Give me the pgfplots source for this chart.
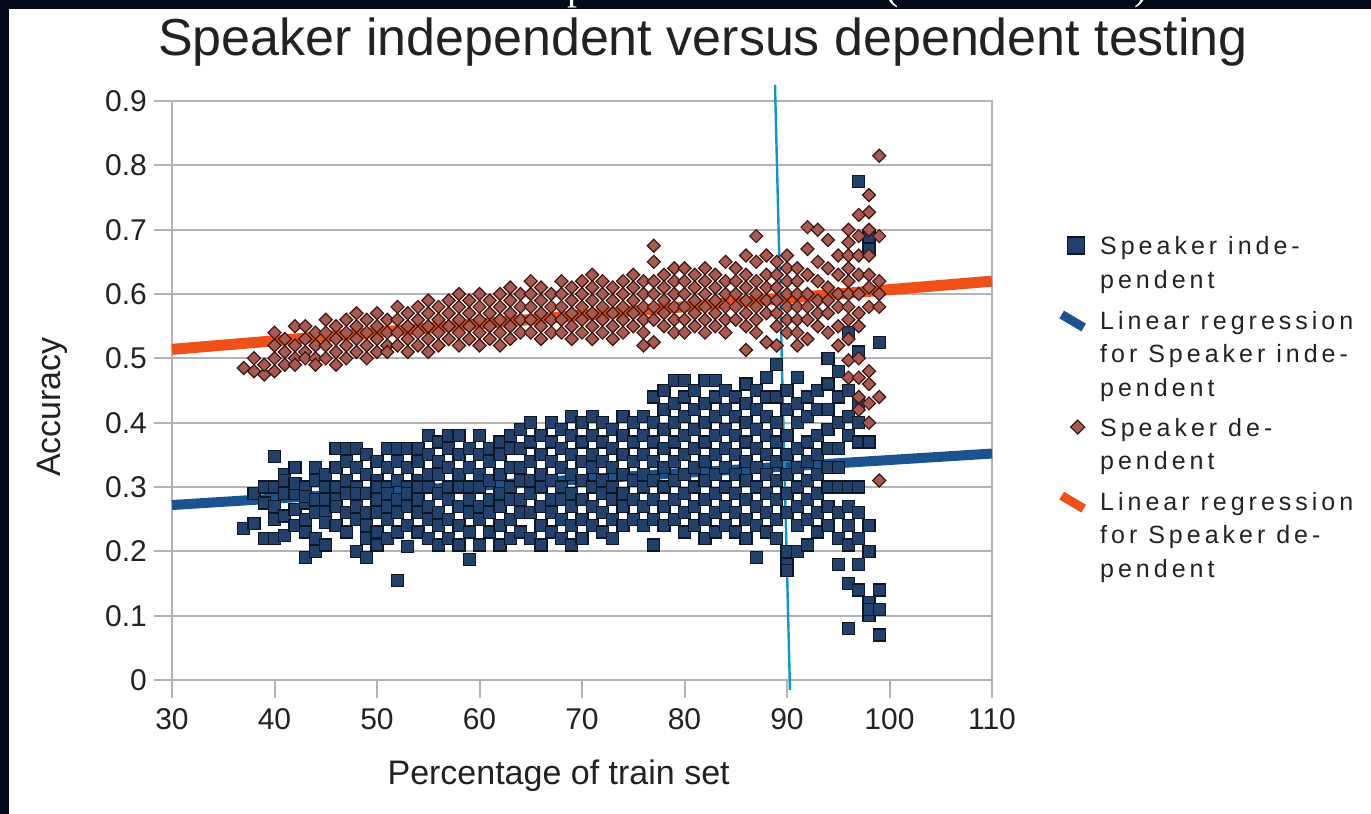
\documentclass[border=0pt]{standalone}
\usepackage{fontspec}
\setmainfont{Liberation Sans}
\newfontfamily\legfont[LetterSpace=16]{Liberation Sans}
\newfontfamily\serifcut{Liberation Serif}
\usepackage{pgfplots}
\pgfplotsset{compat=1.18}
\definecolor{bgnavy}{HTML}{020A19}
\definecolor{gridgray}{HTML}{B3B3B3}
\definecolor{sqfill}{HTML}{21406A}
\definecolor{sqdraw}{HTML}{0B1626}
\definecolor{regblue}{HTML}{1A5390}
\definecolor{dmfill}{HTML}{A85A50}
\definecolor{dmdraw}{HTML}{3D1510}
\definecolor{regorange}{HTML}{EF4F18}
\definecolor{cyanline}{HTML}{0B98CF}
\definecolor{txt}{HTML}{222222}
\begin{document}
\begin{tikzpicture}
\useasboundingbox (0,0) rectangle (685.5pt,-407pt);
\fill[bgnavy] (0,0) rectangle (685.5pt,-407pt);
\fill[white] (4.5pt,-4.5pt) rectangle (685.5pt,-407pt);
\begin{scope}
\clip (0,0) rectangle (685.5pt,-4.5pt);
\node[anchor=base west, inner sep=0pt, text=white, font=\serifcut\fontsize{20}{24}\selectfont] at (283.5pt,0.3pt) {p};
\node[anchor=base west, inner sep=0pt, text=white, font=\serifcut\fontsize{20}{24}\selectfont] at (442.5pt,0.3pt) {(};
\node[anchor=base west, inner sep=0pt, text=white, font=\serifcut\fontsize{20}{24}\selectfont] at (567pt,0.3pt) {)};
\end{scope}
\begin{axis}[
  at={(86pt,-340pt)}, anchor=south west,
  scale only axis, width=410pt, height=289.5pt,
  xmin=30, xmax=110, ymin=0, ymax=0.9,
  xtick={30,40,50,60,70,80,90,100,110},
  ytick={0,0.1,0.2,0.3,0.4,0.5,0.6,0.7,0.8,0.9},
  xtick pos=bottom, ytick pos=left,
  tick align=outside, major tick length=9pt,
  tick style={draw=gridgray, line width=1pt},
  axis line style={draw=gridgray, line width=1pt},
  ymajorgrids, major grid style={draw=gridgray, line width=1pt},
  /pgf/number format/assume math mode=true,
  yticklabel style={/pgf/number format/fixed, /pgf/number format/precision=1, font=\fontsize{15}{18}\selectfont, text=txt},
  xticklabel style={font=\fontsize{15}{18}\selectfont, text=txt, yshift=-1.5pt},
  every axis title shift=0pt,
  title={Speaker independent versus dependent testing},
  title style={at={(axis description cs:0.6476,1.0794)}, anchor=base, font=\fontsize{26}{30}\selectfont, text=txt},
  xlabel={Percentage of train set},
  xlabel style={at={(axis description cs:0.4715,-0.181)}, anchor=base, font=\fontsize{17}{20}\selectfont, text=txt},
  ylabel={Accuracy},
  ylabel style={at={(axis description cs:-0.146,0.4715)}, anchor=center, font=\fontsize{17}{20}\selectfont, text=txt},
  clip=false,
  legend style={at={(axis description cs:1.079,0.767)}, anchor=north west, draw=none, fill=none, inner sep=0pt, row sep=9.2pt, column sep=6pt, font=\legfont\fontsize{12.5}{16.85}\selectfont, text=txt, cells={align=left, anchor=base west}, nodes={inner sep=0pt}},
]
\addplot[only marks, mark=square*, mark size=3pt, mark options={fill=sqfill, draw=sqdraw, line width=0.6pt},
  legend image code/.code={\filldraw[fill=sqfill, draw=sqdraw, line width=0.6pt] (4.75pt,17.35pt) rectangle (13.25pt,25.85pt);}]
coordinates {
(37,0.235)
(38,0.243)(38,0.29)
(39,0.30)(39,0.275)(39,0.22)
(40,0.348)(40,0.30)(40,0.27)(40,0.25)(40,0.22)
(41,0.32)(41,0.29)(41,0.255)(41,0.225)(41,0.31)
(42,0.33)(42,0.29)(42,0.265)(42,0.24)(42,0.305)
(43,0.30)(43,0.275)(43,0.25)(43,0.19)(43,0.23)(43,0.285)
(44,0.33)(44,0.31)(44,0.22)(44,0.20)(44,0.26)(44,0.28)
(45,0.30)(45,0.28)(45,0.26)(45,0.21)(45,0.245)(45,0.32)
(46,0.36)(46,0.33)(46,0.30)(46,0.28)(46,0.24)(46,0.27)
(47,0.34)(47,0.31)(47,0.29)(47,0.26)(47,0.23)(47,0.36)
(48,0.36)(48,0.33)(48,0.30)(48,0.27)(48,0.25)(48,0.20)(48,0.29)
(49,0.35)(49,0.32)(49,0.29)(49,0.26)(49,0.22)(49,0.19)(49,0.24)
(50,0.34)(50,0.31)(50,0.28)(50,0.26)(50,0.23)(50,0.21)(50,0.30)
(51,0.36)(51,0.33)(51,0.30)(51,0.27)(51,0.25)(51,0.22)(51,0.29)
(52,0.36)(52,0.34)(52,0.31)(52,0.28)(52,0.26)(52,0.155)(52,0.23)
(53,0.36)(53,0.33)(53,0.30)(53,0.27)(53,0.24)(53,0.207)(53,0.29)
(54,0.36)(54,0.34)(54,0.31)(54,0.28)(54,0.26)(54,0.23)(54,0.30)
(55,0.38)(55,0.35)(55,0.32)(55,0.30)(55,0.27)(55,0.25)(55,0.22)
(56,0.37)(56,0.34)(56,0.32)(56,0.29)(56,0.26)(56,0.24)(56,0.21)
(57,0.38)(57,0.36)(57,0.33)(57,0.30)(57,0.28)(57,0.25)(57,0.22)
(58,0.38)(58,0.35)(58,0.32)(58,0.30)(58,0.27)(58,0.24)(58,0.21)
(59,0.36)(59,0.33)(59,0.30)(59,0.28)(59,0.26)(59,0.187)(59,0.23)
(60,0.38)(60,0.35)(60,0.32)(60,0.30)(60,0.27)(60,0.25)(60,0.21)
(61,0.36)(61,0.34)(61,0.31)(61,0.28)(61,0.26)(61,0.23)
(62,0.37)(62,0.35)(62,0.32)(62,0.29)(62,0.27)(62,0.24)(62,0.21)
(63,0.38)(63,0.36)(63,0.33)(63,0.30)(63,0.28)(63,0.25)(63,0.22)
(64,0.39)(64,0.36)(64,0.33)(64,0.31)(64,0.28)(64,0.26)(64,0.23)
(65,0.40)(65,0.37)(65,0.34)(65,0.31)(65,0.29)(65,0.26)(65,0.22)
(66,0.38)(66,0.35)(66,0.32)(66,0.30)(66,0.27)(66,0.24)(66,0.21)
(67,0.40)(67,0.37)(67,0.34)(67,0.31)(67,0.28)(67,0.26)(67,0.23)
(68,0.39)(68,0.36)(68,0.33)(68,0.30)(68,0.28)(68,0.25)(68,0.22)
(69,0.41)(69,0.38)(69,0.35)(69,0.32)(69,0.29)(69,0.27)(69,0.24)(69,0.21)
(70,0.40)(70,0.37)(70,0.34)(70,0.31)(70,0.28)(70,0.25)(70,0.22)
(71,0.41)(71,0.38)(71,0.35)(71,0.33)(71,0.30)(71,0.27)(71,0.24)
(72,0.40)(72,0.37)(72,0.34)(72,0.31)(72,0.29)(72,0.26)(72,0.23)
(73,0.39)(73,0.36)(73,0.33)(73,0.30)(73,0.28)(73,0.25)(73,0.22)
(74,0.41)(74,0.38)(74,0.35)(74,0.32)(74,0.29)(74,0.27)(74,0.24)
(75,0.40)(75,0.37)(75,0.34)(75,0.31)(75,0.28)(75,0.25)
(76,0.41)(76,0.38)(76,0.35)(76,0.32)(76,0.30)(76,0.27)(76,0.24)
(77,0.44)(77,0.40)(77,0.37)(77,0.34)(77,0.31)(77,0.28)(77,0.25)(77,0.21)
(78,0.45)(78,0.42)(78,0.39)(78,0.36)(78,0.33)(78,0.30)(78,0.27)(78,0.24)
(79,0.466)(79,0.43)(79,0.40)(79,0.37)(79,0.34)(79,0.31)(79,0.28)(79,0.25)
(80,0.466)(80,0.44)(80,0.41)(80,0.38)(80,0.35)(80,0.32)(80,0.29)(80,0.26)(80,0.23)
(81,0.45)(81,0.42)(81,0.39)(81,0.36)(81,0.33)(81,0.30)(81,0.27)(81,0.24)
(82,0.466)(82,0.43)(82,0.40)(82,0.37)(82,0.34)(82,0.31)(82,0.28)(82,0.25)(82,0.22)
(83,0.466)(83,0.44)(83,0.41)(83,0.38)(83,0.35)(83,0.32)(83,0.29)(83,0.26)(83,0.23)
(84,0.45)(84,0.42)(84,0.39)(84,0.36)(84,0.33)(84,0.30)(84,0.27)(84,0.24)
(85,0.44)(85,0.41)(85,0.38)(85,0.35)(85,0.32)(85,0.29)(85,0.26)(85,0.23)
(86,0.46)(86,0.43)(86,0.40)(86,0.37)(86,0.34)(86,0.31)(86,0.28)(86,0.25)(86,0.22)
(87,0.45)(87,0.42)(87,0.39)(87,0.36)(87,0.33)(87,0.30)(87,0.27)(87,0.24)(87,0.19)
(88,0.47)(88,0.44)(88,0.41)(88,0.38)(88,0.35)(88,0.32)(88,0.29)(88,0.26)(88,0.23)
(89,0.49)(89,0.44)(89,0.40)(89,0.37)(89,0.34)(89,0.31)(89,0.28)(89,0.25)(89,0.22)
(90,0.45)(90,0.42)(90,0.38)(90,0.35)(90,0.32)(90,0.29)(90,0.26)(90,0.20)(90,0.18)(90,0.17)
(91,0.47)(91,0.43)(91,0.40)(91,0.36)(91,0.33)(91,0.30)(91,0.27)(91,0.24)(91,0.20)
(92,0.44)(92,0.41)(92,0.37)(92,0.34)(92,0.31)(92,0.28)(92,0.25)(92,0.21)
(93,0.45)(93,0.42)(93,0.38)(93,0.35)(93,0.32)(93,0.29)(93,0.26)(93,0.23)
(94,0.50)(94,0.46)(94,0.42)(94,0.39)(94,0.36)(94,0.33)(94,0.30)(94,0.27)(94,0.24)
(95,0.48)(95,0.44)(95,0.40)(95,0.36)(95,0.33)(95,0.30)(95,0.26)(95,0.22)(95,0.18)
(96,0.54)(96,0.45)(96,0.41)(96,0.38)(96,0.30)(96,0.27)(96,0.24)(96,0.21)(96,0.15)(96,0.08)
(97,0.775)(97,0.51)(97,0.43)(97,0.40)(97,0.37)(97,0.30)(97,0.26)(97,0.22)(97,0.18)(97,0.14)
(98,0.69)(98,0.67)(98,0.37)(98,0.24)(98,0.20)(98,0.12)(98,0.10)(98,0.11)
(99,0.525)(99,0.14)(99,0.11)(99,0.07)
};
\addlegendentry{Speaker inde-\\pendent}
\addplot[regblue, line width=5pt, legend image code/.code={\draw[regblue, line width=4.5pt] (2pt,41.0pt) -- (13pt,34.5pt);}]
coordinates {(30,0.272) (110,0.352)};
\addlegendentry{Linear regression\\for Speaker inde-\\pendent}
\addplot[only marks, mark=square*, mark size=2.3pt, mark options={rotate=45, fill=dmfill, draw=dmdraw, line width=0.6pt},
  legend image code/.code={\filldraw[fill=dmfill, draw=dmdraw, line width=0.6pt] (10pt,17.85pt) -- (13.5pt,21.35pt) -- (10pt,24.85pt) -- (6.5pt,21.35pt) -- cycle;}]
coordinates {
(37,0.485)
(38,0.50)(38,0.48)
(39,0.475)(39,0.49)
(40,0.54)(40,0.52)(40,0.50)(40,0.48)
(41,0.53)(41,0.51)(41,0.49)
(42,0.55)(42,0.52)(42,0.50)(42,0.49)
(43,0.55)(43,0.53)(43,0.51)(43,0.50)
(44,0.54)(44,0.52)(44,0.50)(44,0.49)
(45,0.56)(45,0.54)(45,0.52)(45,0.50)
(46,0.55)(46,0.53)(46,0.51)(46,0.49)
(47,0.56)(47,0.54)(47,0.52)(47,0.50)
(48,0.57)(48,0.55)(48,0.53)(48,0.51)
(49,0.56)(49,0.54)(49,0.52)(49,0.50)
(50,0.57)(50,0.55)(50,0.53)(50,0.51)
(51,0.56)(51,0.54)(51,0.52)(51,0.51)
(52,0.58)(52,0.56)(52,0.54)(52,0.52)
(53,0.57)(53,0.55)(53,0.53)(53,0.51)
(54,0.58)(54,0.56)(54,0.54)(54,0.52)
(55,0.59)(55,0.57)(55,0.55)(55,0.53)(55,0.51)
(56,0.58)(56,0.56)(56,0.54)(56,0.52)
(57,0.59)(57,0.57)(57,0.55)(57,0.53)
(58,0.60)(58,0.58)(58,0.56)(58,0.54)(58,0.52)
(59,0.59)(59,0.57)(59,0.55)(59,0.53)
(60,0.60)(60,0.58)(60,0.56)(60,0.54)(60,0.52)
(61,0.59)(61,0.57)(61,0.55)(61,0.53)
(62,0.60)(62,0.58)(62,0.56)(62,0.54)(62,0.52)
(63,0.61)(63,0.59)(63,0.57)(63,0.55)(63,0.53)
(64,0.60)(64,0.58)(64,0.56)(64,0.54)
(65,0.62)(65,0.60)(65,0.58)(65,0.56)(65,0.54)
(66,0.61)(66,0.59)(66,0.57)(66,0.55)(66,0.53)
(67,0.60)(67,0.58)(67,0.56)(67,0.54)
(68,0.62)(68,0.60)(68,0.58)(68,0.56)(68,0.54)
(69,0.61)(69,0.59)(69,0.57)(69,0.55)(69,0.53)
(70,0.62)(70,0.60)(70,0.58)(70,0.56)(70,0.54)
(71,0.63)(71,0.61)(71,0.59)(71,0.57)(71,0.55)(71,0.53)
(72,0.62)(72,0.60)(72,0.58)(72,0.56)(72,0.54)
(73,0.61)(73,0.59)(73,0.57)(73,0.55)(73,0.53)
(74,0.62)(74,0.60)(74,0.58)(74,0.56)(74,0.54)
(75,0.63)(75,0.61)(75,0.59)(75,0.57)(75,0.55)
(76,0.62)(76,0.60)(76,0.58)(76,0.56)(76,0.54)(76,0.52)
(77,0.675)(77,0.65)(77,0.62)(77,0.60)(77,0.58)(77,0.56)(77,0.525)
(78,0.63)(78,0.61)(78,0.59)(78,0.57)(78,0.55)
(79,0.64)(79,0.62)(79,0.60)(79,0.58)(79,0.56)(79,0.54)
(80,0.64)(80,0.62)(80,0.60)(80,0.58)(80,0.56)(80,0.54)
(81,0.63)(81,0.61)(81,0.59)(81,0.57)(81,0.55)
(82,0.64)(82,0.62)(82,0.60)(82,0.58)(82,0.56)(82,0.54)
(83,0.63)(83,0.61)(83,0.59)(83,0.57)(83,0.55)
(84,0.65)(84,0.62)(84,0.60)(84,0.58)(84,0.56)(84,0.54)
(85,0.64)(85,0.62)(85,0.60)(85,0.58)(85,0.56)
(86,0.66)(86,0.63)(86,0.61)(86,0.59)(86,0.57)(86,0.55)(86,0.513)
(87,0.69)(87,0.65)(87,0.62)(87,0.60)(87,0.58)(87,0.56)(87,0.54)
(88,0.66)(88,0.63)(88,0.61)(88,0.59)(88,0.57)(88,0.525)
(89,0.65)(89,0.63)(89,0.61)(89,0.59)(89,0.57)(89,0.55)(89,0.52)
(90,0.66)(90,0.64)(90,0.62)(90,0.60)(90,0.58)(90,0.56)(90,0.54)
(91,0.64)(91,0.62)(91,0.60)(91,0.58)(91,0.56)(91,0.54)(91,0.52)
(92,0.704)(92,0.67)(92,0.63)(92,0.60)(92,0.58)(92,0.56)(92,0.53)
(93,0.70)(93,0.65)(93,0.62)(93,0.59)(93,0.57)(93,0.55)
(94,0.684)(94,0.64)(94,0.61)(94,0.59)(94,0.57)(94,0.54)
(95,0.66)(95,0.63)(95,0.60)(95,0.58)(95,0.55)(95,0.52)
(96,0.70)(96,0.68)(96,0.66)(96,0.64)(96,0.62)(96,0.60)(96,0.58)(96,0.56)(96,0.53)(96,0.497)(96,0.47)
(97,0.723)(97,0.69)(97,0.66)(97,0.63)(97,0.60)(97,0.57)(97,0.55)(97,0.50)(97,0.47)(97,0.44)(97,0.42)
(98,0.754)(98,0.727)(98,0.70)(98,0.66)(98,0.63)(98,0.61)(98,0.58)(98,0.48)(98,0.46)(98,0.43)(98,0.40)
(99,0.815)(99,0.69)(99,0.62)(99,0.60)(99,0.58)(99,0.44)(99,0.31)
};
\addlegendentry{Speaker de-\\pendent}
\addplot[regorange, line width=5.5pt, legend image code/.code={\draw[regorange, line width=4.5pt] (2pt,41.0pt) -- (13pt,34.5pt);}]
coordinates {(30,0.514) (110,0.62)};
\addlegendentry{Linear regression\\for Speaker de-\\pendent}
\draw[cyanline, line width=1.2pt] (axis cs:88.83,0.925) -- (axis cs:90.29,-0.0155);
\end{axis}
\end{tikzpicture}
\end{document}
